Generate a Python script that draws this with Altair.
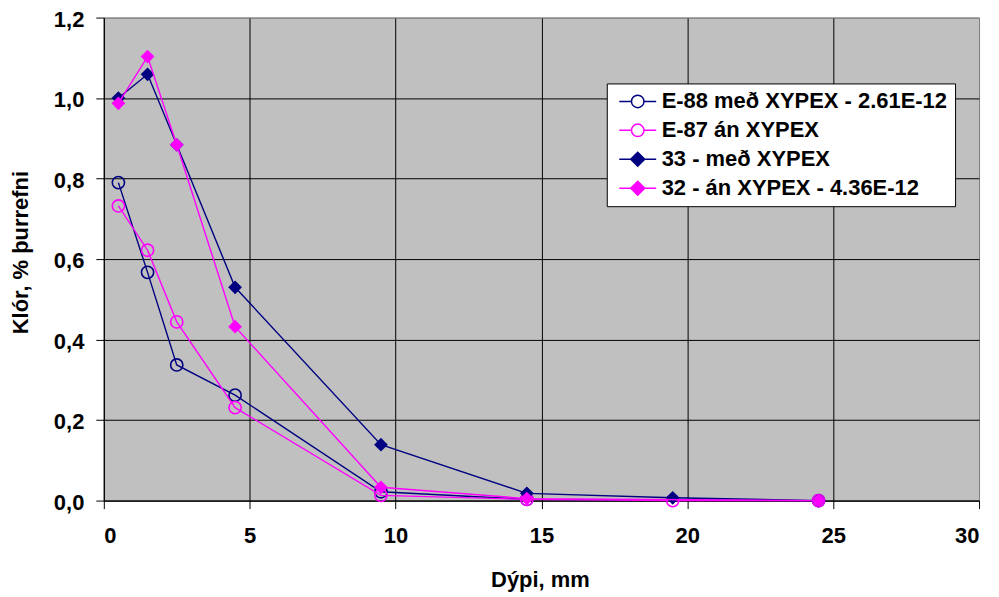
import altair as alt
import pandas as pd

series_names = [
    "E-88 með XYPEX - 2.61E-12",
    "E-87 án XYPEX",
    "33 - með XYPEX",
    "32 - án XYPEX - 4.36E-12",
]
series_colors = ["#000080", "#FF00FF", "#000080", "#FF00FF"]
series_fills = ["transparent", "transparent", "#000080", "#FF00FF"]
series_markers = ["circle", "circle", "diamond", "diamond"]

x_e88 = [0.5, 1.5, 2.5, 4.5, 9.5, 14.5, 24.5]
y_e88 = [0.790, 0.567, 0.337, 0.262, 0.022, 0.003, 0.0]
x_e87 = [0.5, 1.5, 2.5, 4.5, 9.5, 14.5, 19.5, 24.5]
y_e87 = [0.732, 0.622, 0.444, 0.231, 0.013, 0.003, 0.0, 0.0]
x_33 = [0.5, 1.5, 2.5, 4.5, 9.5, 14.5, 19.5, 24.5]
y_33 = [1.000, 1.059, 0.884, 0.530, 0.139, 0.018, 0.007, 0.0]
x_32 = [0.5, 1.5, 2.5, 4.5, 9.5, 14.5, 24.5]
y_32 = [0.987, 1.103, 0.884, 0.432, 0.033, 0.005, 0.0]

x_ticks = [0, 5, 10, 15, 20, 25, 30]
y_ticks = [0.0, 0.2, 0.4, 0.6, 0.8, 1.0, 1.2]

xs_all = [x_e88, x_e87, x_33, x_32]
ys_all = [y_e88, y_e87, y_33, y_32]

rows = []
for name, xs, ys in zip(series_names, xs_all, ys_all):
    for i, (xv, yv) in enumerate(zip(xs, ys)):
        rows.append({"series": name, "x": xv, "y": yv, "order": i})
df = pd.DataFrame(rows)

FONT = "Liberation Sans"
FS = 22

x_enc = alt.X(
    "x:Q",
    scale=alt.Scale(domain=[0, 30], nice=False, zero=False),
    axis=alt.Axis(
        values=x_ticks,
        title="Dýpi, mm",
        titleX=437,
        titleY=86,
        titleBaseline="alphabetic",
        labelPadding=17,
        gridColor={"condition": {"test": "datum.value == 30", "value": "#808080"}, "value": "#000000"},
    ),
)
y_enc = alt.Y(
    "y:Q",
    scale=alt.Scale(domain=[0, 1.2], nice=False),
    axis=alt.Axis(
        values=y_ticks,
        title="Klór, % þurrefni",
        labelExpr="replace(format(datum.value, '.1f'), '.', ',')",
        titleX=-76,
        titleY=235,
        titleAngle=-90,
        titleBaseline="alphabetic",
        titleAlign="center",
        labelPadding=12,
        labelOffset=1.5,
        gridColor={"condition": {"test": "datum.value >= 1.19", "value": "#808080"}, "value": "#000000"},
    ),
)

base = alt.Chart(df)
layers = []
for name, col, fillc, marker in zip(series_names, series_colors, series_fills, series_markers):
    sub = base.transform_filter(alt.datum.series == name)
    layers.append(
        sub.mark_line(strokeWidth=1.4, color=col).encode(
            x=x_enc, y=y_enc, order="order:Q"
        )
    )
    if marker == "circle":
        pt = sub.mark_point(shape="circle", size=150, filled=False, color=col,
                            strokeWidth=1.6, opacity=1)
    else:
        pt = sub.mark_point(shape="diamond", size=190, filled=True, color=col,
                            opacity=1)
    layers.append(pt.encode(x=x_enc, y=y_enc))

legend_paths = [
    "M-3.7,0L-1.25,0M1.25,0L3.7,0M-1.25,0A1.25,1.25,0,1,0,1.25,0A1.25,1.25,0,1,0,-1.25,0",
    "M-3.7,0L-1.25,0M1.25,0L3.7,0M-1.25,0A1.25,1.25,0,1,0,1.25,0A1.25,1.25,0,1,0,-1.25,0",
    "M-3.7,0L-1.4,0M1.4,0L3.7,0M0,-1.4L1.4,0L0,1.4L-1.4,0Z",
    "M-3.7,0L-1.4,0M1.4,0L3.7,0M0,-1.4L1.4,0L0,1.4L-1.4,0Z",
]

leg = alt.Legend(
    title=None,
    orient="none",
    legendX=504,
    legendY=66,
    symbolSize=100,
    symbolStrokeWidth=1.5,
)

legend_layer = base.transform_filter("datum.y < -1").mark_point(
    filled=True, size=100, strokeWidth=1.5, opacity=1
).encode(
    x=x_enc,
    y=y_enc,
    stroke=alt.Stroke("series:N", scale=alt.Scale(domain=series_names, range=series_colors), legend=leg),
    fill=alt.Fill("series:N", scale=alt.Scale(domain=series_names, range=series_fills), legend=leg),
    shape=alt.Shape("series:N", scale=alt.Scale(domain=series_names, range=legend_paths), legend=leg),
)

chart = (
    alt.layer(*layers, legend_layer)
    .properties(
        width=877,
        height=484,
        autosize=alt.AutoSizeParams(type="none"),
        padding={"left": 96, "top": 9, "right": 12, "bottom": 92},
        background="white",
    )
    .configure_view(fill="#C0C0C0", stroke="#808080", strokeWidth=1)
    .configure_axis(
        labelFont=FONT,
        labelFontSize=FS,
        labelFontWeight="bold",
        labelColor="#000000",
        titleFont=FONT,
        titleFontSize=FS,
        titleFontWeight="bold",
        titleColor="#000000",
        grid=True,
        gridWidth=1,
        gridOpacity=1,
        domainColor="#000000",
        domainWidth=1,
        tickColor="#000000",
        tickSize=8,
        tickWidth=1,
    )
    .configure_legend(
        padding=7,
        fillColor="white",
        strokeColor="#000000",
        strokeWidth=1,
        labelFont=FONT,
        labelFontSize=FS,
        labelFontWeight="bold",
        labelColor="#000000",
        labelLimit=500,
        symbolOffset=13,
        labelOffset=13,
        rowPadding=7,
    )
)

chart.save("out.html", embed_options={"renderer": "svg", "actions": False})
